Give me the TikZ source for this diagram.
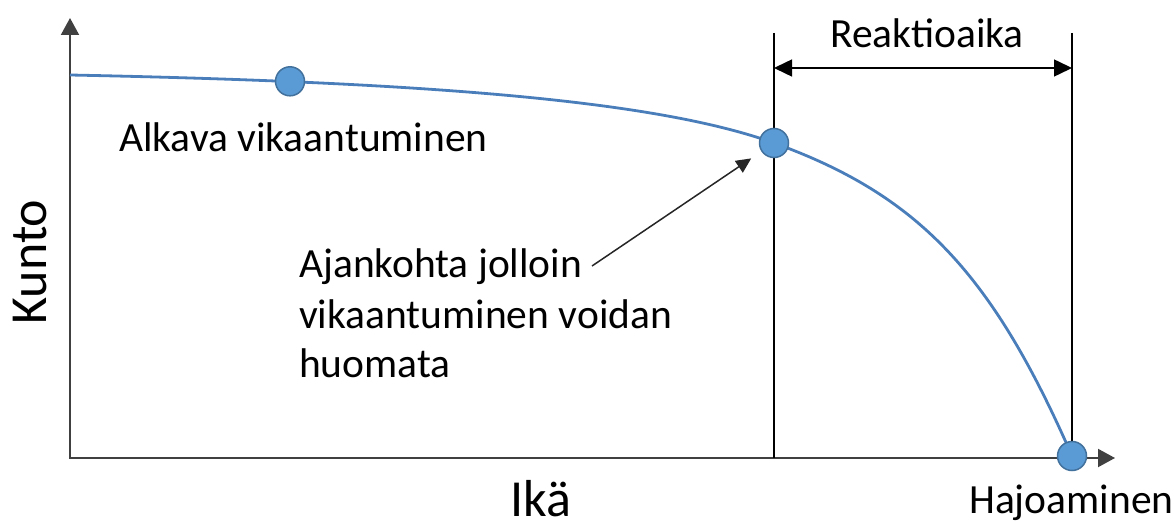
\documentclass[tikz,border=0pt]{standalone}
\usepackage{fontspec}
\setmainfont{Carlito}
\usetikzlibrary{arrows.meta}
\definecolor{curveblue}{HTML}{4A7EBB}
\definecolor{dotfill}{HTML}{5B9BD5}
\definecolor{dotdraw}{HTML}{41719C}
\definecolor{axisgray}{HTML}{404040}
\begin{document}
\begin{tikzpicture}[x=1pt,y=-1pt,
 lbl/.style={font=\fontsize{41.5}{50}\selectfont, inner sep=0pt, anchor=base west},
 biglbl/.style={font=\fontsize{52}{60}\selectfont, inner sep=0pt},
 dot/.style={circle, fill=dotfill, draw=dotdraw, line width=1.5pt, minimum size=29pt, inner sep=0pt, outer sep=0pt},
 axis/.style={draw=axisgray, line width=2pt, {Triangle[width=18pt,length=17pt]}-{Triangle[width=18pt,length=17pt]}},
 guide/.style={draw=black, line width=1.5pt},
 dim/.style={draw=black, line width=1.5pt, {Triangle[width=17pt,length=18pt]}-{Triangle[width=17pt,length=18pt]}},
 pointer/.style={draw=black!85, line width=1.5pt, -{Triangle[width=14pt,length=15pt]}},
 curve/.style={draw=curveblue, line width=2.8pt}]
\useasboundingbox (0,0) rectangle (1174,521);
% axes
\coordinate (O) at (70,458);
\coordinate (ytop) at (70,18);
\coordinate (xend) at (1115,458);
\draw[axis] (ytop) -- (O) -- (xend);
% reaction-time guides
\coordinate (r1top) at (774,33);
\coordinate (r1bot) at (774,458);
\coordinate (r2top) at (1072,33);
\coordinate (r2bot) at (1072,458);
\draw[guide] (r1top) -- (r1bot);
\draw[guide] (r2top) -- (r2bot);
\coordinate (d1) at (774,68);
\coordinate (d2) at (1072,68);
\draw[dim] (d1) -- (d2);
% curve
\coordinate (cs) at (70,75);
\draw[curve] (cs) .. controls (451,82.6) and (663,103) .. (774,143)
  .. controls (918,195) and (992,273) .. (1072,456);
% dots
\node[dot] (c1) at (290,81.3) {};
\node[dot] (c2) at (774,143) {};
\node[dot] (c3) at (1072,456) {};
% labels
\node[lbl] (alk) at (119,152) {Alkava vikaantuminen};
\node[lbl] (reak) at (830,48) {Reaktioaika};
\node[lbl] (haj) at (969,513) {Hajoaminen};
\node[lbl] (aj1) at (299,277) {Ajankohta jolloin};
\node[lbl] (aj2) at (299,328) {vikaantuminen voidan};
\node[lbl] (aj3) at (299,377) {huomata};
\node[biglbl, rotate=90] (kunto) at (30,262) {Kunto};
\node[biglbl, anchor=base west] (ika) at (510,516) {Ikä};
% pointer
\coordinate (ptr) at (592,266);
\draw[pointer, shorten >=13pt] (ptr) -- (c2);
\end{tikzpicture}
\end{document}
